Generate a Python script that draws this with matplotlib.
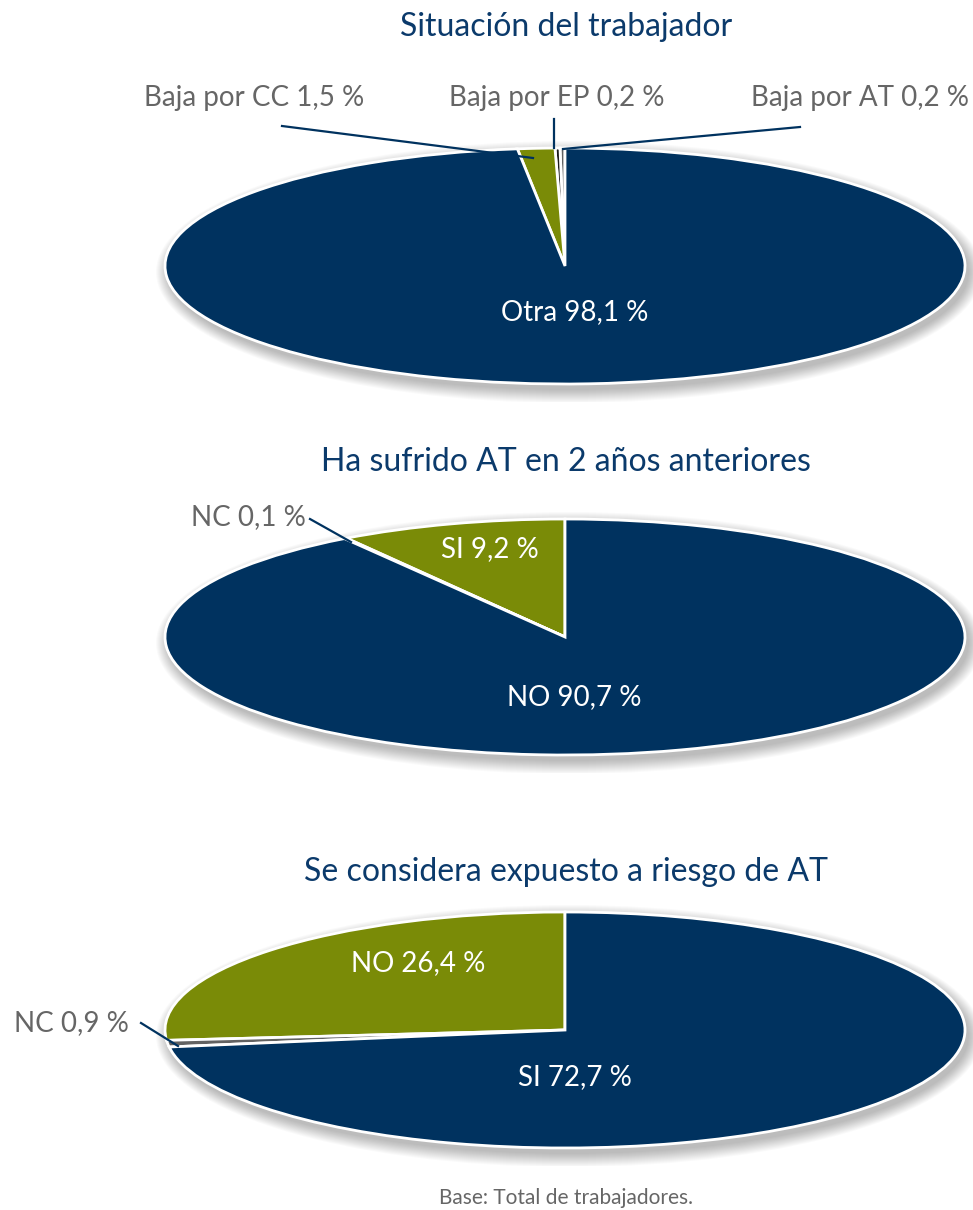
import matplotlib
matplotlib.use('Agg')
import matplotlib.pyplot as plt
from matplotlib.patches import Ellipse

####################################################################################################

W, H = 973, 1210

navy = '#00325f'
green = '#7a8b07'
grey = '#626262'
black = '#1c1c1c'
text_grey = '#666666'

titles = ['Situación del trabajador',
          'Ha sufrido AT en 2 años anteriores',
          'Se considera expuesto a riesgo de AT']

# pie 1 (counterclockwise from 12 o'clock)
labels1 = ['Baja por AT', 'Baja por EP', 'Baja por CC', 'Otra']
values1 = [0.2, 0.2, 1.5, 98.1]
colors1 = [grey, black, green, navy]

# pie 2
labels2 = ['SI', 'NC', 'NO']
values2 = [9.2, 0.1, 90.7]
colors2 = [green, grey, navy]

# pie 3
labels3 = ['NO', 'NC', 'SI']
values3 = [26.4, 0.9, 72.7]
colors3 = [green, grey, navy]

footer = 'Base: Total de trabajadores.'

####################################################################################################

plt.rcParams['font.family'] = ['Lato', 'DejaVu Sans']

fig = plt.figure(figsize=(W / 100, H / 100), dpi=100)

CX, RX, RY, PAD = 565, 400, 118, 1.15


def P(x, y):
    return x / W, 1 - y / H


def fmt(label, v):
    return '%s %s %%' % (label, ('%.1f' % v).replace('.', ','))


def make_pie(cy, values, colors):
    ax = fig.add_axes([(CX - RX * PAD) / W, (H - cy - RY * PAD) / H,
                       2 * RX * PAD / W, 2 * RY * PAD / H])
    # soft shadow
    for k in range(14):
        g = k * 1.0
        ax.add_patch(Ellipse((4 / RX, -6 / RY), 2 * (1 + g / RX), 2 * (1 + g / RY),
                             facecolor='black', edgecolor='none', alpha=0.02, zorder=0))
    ax.pie(values, colors=colors, startangle=90, counterclock=True,
           wedgeprops=dict(edgecolor='white', linewidth=2.0, zorder=2))
    ax.set_aspect('auto')
    ax.set_xlim(-PAD, PAD)
    ax.set_ylim(-PAD, PAD)
    ax.axis('off')
    return ax


def leader(x0, y0, x1, y1):
    fig.add_artist(plt.Line2D([x0 / W, x1 / W], [1 - y0 / H, 1 - y1 / H],
                              color=navy, lw=1.6, transform=fig.transFigure, zorder=10))


title_kw = dict(ha='center', va='center', fontsize=23, color='#0b3a6b')
lab_kw = dict(ha='center', va='center', fontsize=20, color=text_grey)
in_kw = dict(ha='center', va='center', fontsize=20, color='white')

####################################################################################################
# Situación del trabajador

make_pie(266, values1, colors1)
fig.text(*P(566, 27), titles[0], **title_kw)
fig.text(*P(254, 98), fmt(labels1[2], values1[2]), **lab_kw)
fig.text(*P(557, 98), fmt(labels1[1], values1[1]), **lab_kw)
fig.text(*P(860, 98), fmt(labels1[0], values1[0]), **lab_kw)
fig.text(*P(575, 312), fmt(labels1[3], values1[3]), **in_kw)
leader(282, 126, 533, 158)
leader(554, 119, 554, 148)
leader(800, 127, 563, 149)

####################################################################################################
# Ha sufrido AT en 2 años anteriores

make_pie(637, values2, colors2)
fig.text(*P(566, 462), titles[1], **title_kw)
fig.text(*P(248, 517), fmt(labels2[1], values2[1]), **lab_kw)
fig.text(*P(490, 549), fmt(labels2[0], values2[0]), **in_kw)
fig.text(*P(574, 697), fmt(labels2[2], values2[2]), **in_kw)
leader(310, 519, 351, 542)

####################################################################################################
# Se considera expuesto a riesgo de AT

make_pie(1030, values3, colors3)
fig.text(*P(566, 872), titles[2], **title_kw)
fig.text(*P(71, 1023), fmt(labels3[1], values3[1]), **lab_kw)
fig.text(*P(418, 963), fmt(labels3[0], values3[0]), **in_kw)
fig.text(*P(575, 1077), fmt(labels3[2], values3[2]), **in_kw)
leader(141, 1023, 178, 1046)

fig.text(*P(566, 1198), footer, ha='center', va='center', fontsize=15,
         color=text_grey)

fig.savefig('out.png', dpi=100)
